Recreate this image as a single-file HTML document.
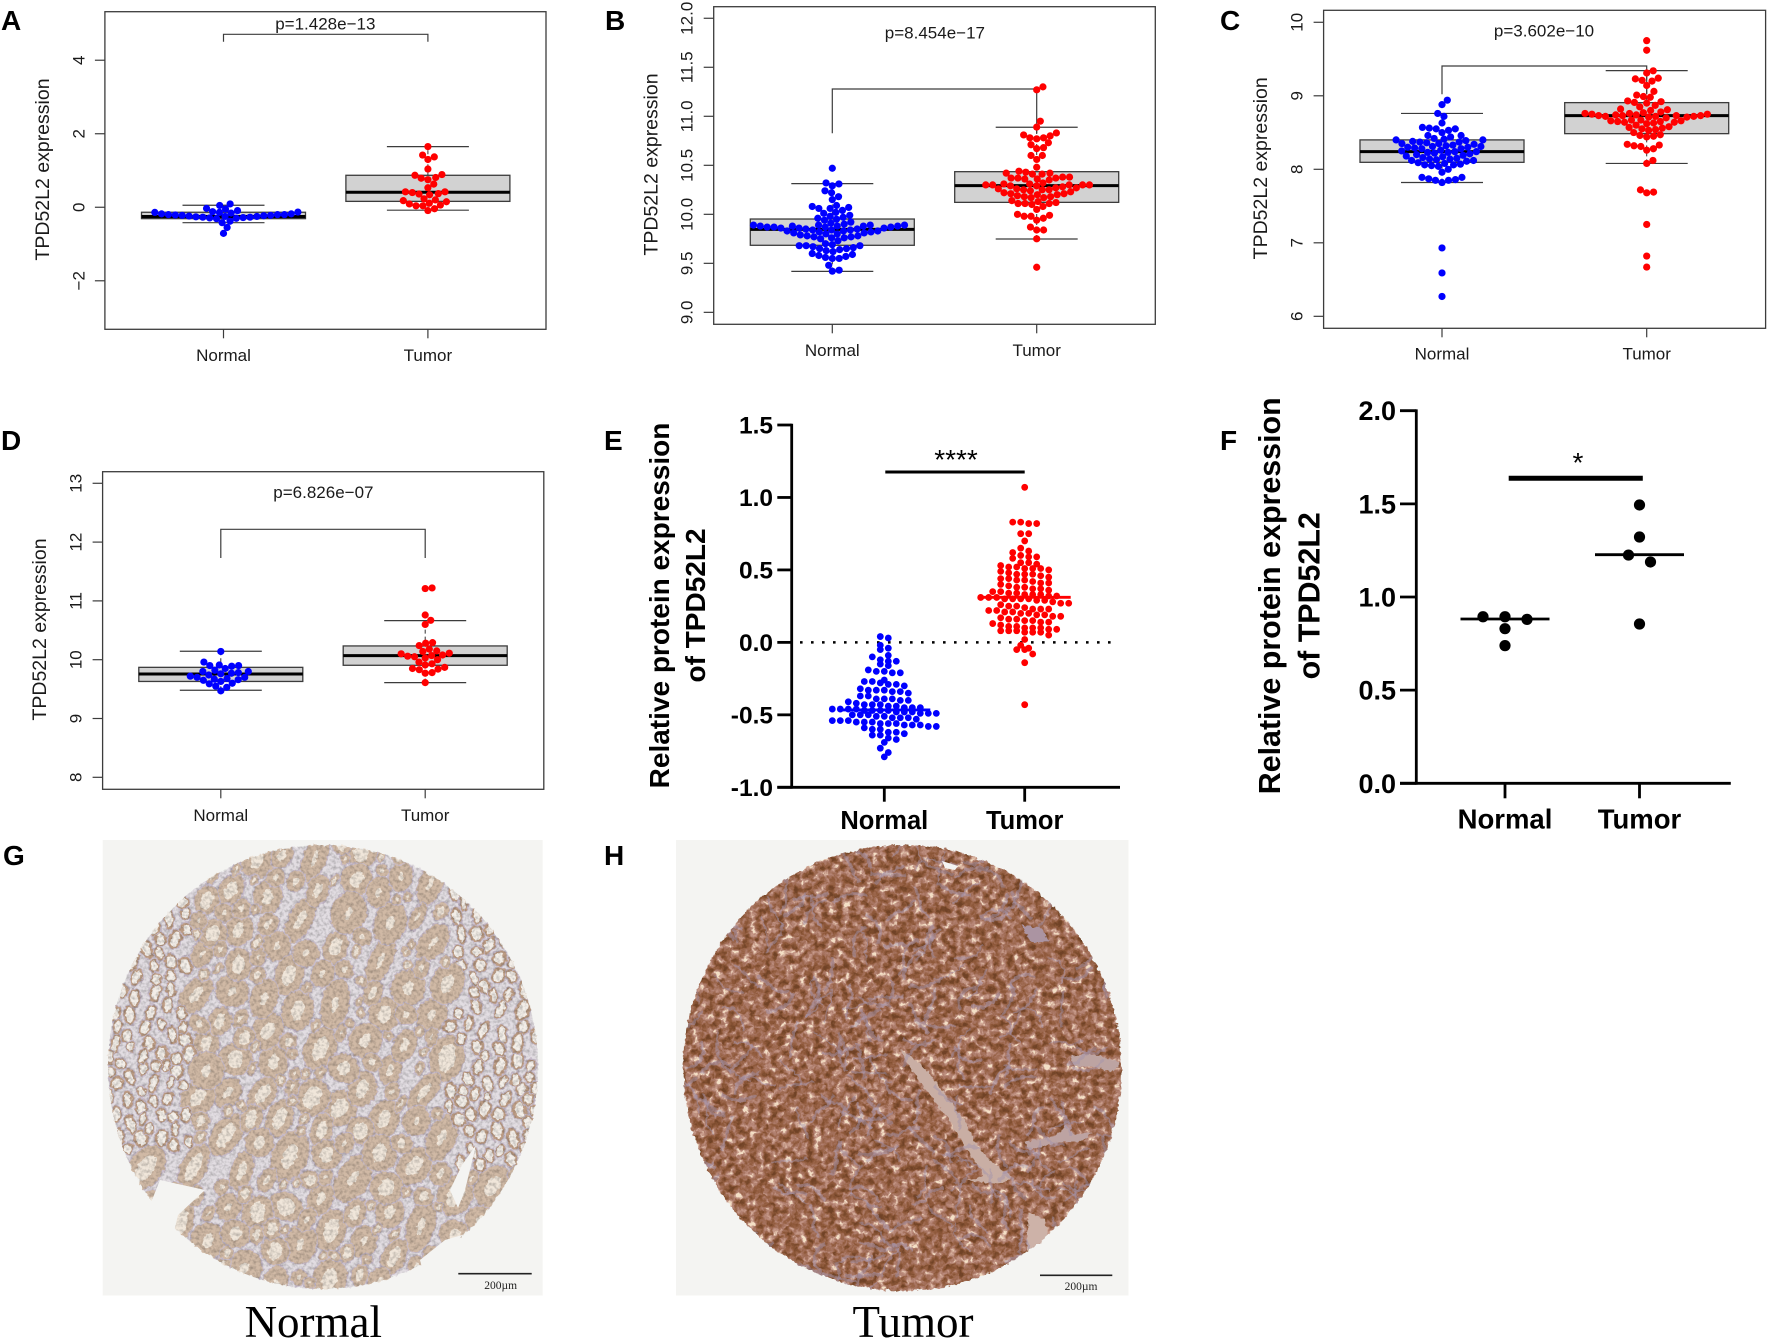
<!DOCTYPE html>
<html lang="en">
<head>
<meta charset="utf-8">
<title>TPD52L2 expression figure</title>
<style>
html,body{margin:0;padding:0;background:#fff;width:1768px;height:1342px;overflow:hidden}
svg{display:block;font-family:"Liberation Sans",Arial,sans-serif}
</style>
</head>
<body>
<svg id="figure" xmlns="http://www.w3.org/2000/svg" width="1768" height="1342" viewBox="0 0 1768 1342">
<defs>
<clipPath id="clipG"><ellipse cx="323" cy="1067" rx="215" ry="222"/></clipPath>
<clipPath id="clipH"><ellipse cx="902.5" cy="1068" rx="219" ry="223"/></clipPath>
<filter id="rough" filterUnits="userSpaceOnUse" x="90" y="830" width="1060" height="480" color-interpolation-filters="sRGB">
<feTurbulence type="fractalNoise" baseFrequency="0.22" numOctaves="2" seed="4" result="n"/>
<feDisplacementMap in="SourceGraphic" in2="n" scale="5" xChannelSelector="R" yChannelSelector="G"/>
</filter>
<filter id="tumorTex" filterUnits="userSpaceOnUse" x="676" y="840" width="453" height="456" color-interpolation-filters="sRGB">
<feTurbulence type="fractalNoise" baseFrequency="0.14" numOctaves="3" seed="11"/>
<feColorMatrix type="matrix" values="1.8 0 0 0 -.4  1.8 0 0 0 -.4  1.8 0 0 0 -.4  0 0 0 0 1"/>
<feComponentTransfer>
<feFuncR type="table" tableValues=".44 .49 .55 .60 .65 .71 .80 .96"/>
<feFuncG type="table" tableValues=".26 .30 .34 .39 .45 .52 .63 .88"/>
<feFuncB type="table" tableValues=".15 .18 .22 .28 .37 .46 .56 .78"/>
</feComponentTransfer>
</filter>
<filter id="normalTex" filterUnits="userSpaceOnUse" x="102" y="840" width="441" height="456" color-interpolation-filters="sRGB">
<feTurbulence type="fractalNoise" baseFrequency="0.3" numOctaves="2" seed="7"/>
<feColorMatrix type="matrix" values=".5 0 0 0 .70  .5 0 0 0 .70  .5 0 0 0 .70  0 0 0 0 1"/>
</filter>
</defs>
<rect x="0" y="0" width="1768" height="1342" fill="#ffffff"/>
<g id="charts"></g>
<g id="tissue-g">
<rect x="102.7" y="840" width="440" height="455.5" fill="#f4f4f2"/>
<g filter="url(#rough)">
<g id="normal-core" clip-path="url(#clipG)">
<ellipse cx="323" cy="1067" rx="215" ry="222" fill="#e2dde2"/>
</g>
</g>
<g clip-path="url(#clipG)" style="mix-blend-mode:multiply">
<rect x="102" y="840" width="441" height="456" filter="url(#normalTex)"/>
</g>
<path d="M160 1180 L205 1190 L178 1215 L172 1240 L150 1205Z" fill="#f4f4f2"/>
<path d="M476 1145 L465 1190 L458 1208 L450 1190 L462 1165Z" fill="#f4f4f2"/>
<path d="M420 1260 L445 1240 L462 1235 L440 1268 L425 1280Z" fill="#f4f4f2"/>
<line x1="458.3" y1="1273.7" x2="531.7" y2="1273.7" stroke="#222" stroke-width="1.6"/>
<text x="500.7" y="1289" text-anchor="middle" font-family="Liberation Serif, serif" font-size="11.5" fill="#222">200µm</text>
</g>
<g id="tissue-h">
<rect x="676" y="840" width="452.5" height="455.5" fill="#f4f4f2"/>
<g filter="url(#rough)">
<g id="tumor-core" clip-path="url(#clipH)">
<rect x="676" y="840" width="453" height="456" filter="url(#tumorTex)"/>
<path d="M900 1050 C918 1060 930 1072 942 1090 C952 1104 964 1118 972 1135 C980 1152 995 1166 1012 1176 L1002 1184 L965 1180 L985 1176 C972 1158 960 1140 950 1122 C936 1102 918 1082 900 1050Z" fill="#c9aea4"/>
<path d="M1028 1212 L1045 1220 L1050 1245 L1034 1262 L1027 1250Z" fill="#cdb2a8"/>
<path d="M1071 1056 L1090 1054 L1120 1062 L1115 1072 L1090 1066 L1074 1066Z" fill="#bda4a2"/>
<path d="M1066 1125 L1075 1135 L1092 1132 L1080 1142 L1060 1142 L1030 1150 L1025 1142 L1055 1136Z" fill="#bda3a2"/>
<path d="M1022 925 L1040 928 L1050 942 L1030 942Z" fill="#ab94a2"/>
</g>
</g>
<path d="M942 861 L958 866 L955 870 L945 868Z" fill="#f4f4f2"/>
<line x1="1040" y1="1275.3" x2="1112.3" y2="1275.3" stroke="#222" stroke-width="1.6"/>
<text x="1081" y="1290" text-anchor="middle" font-family="Liberation Serif, serif" font-size="11.5" fill="#222">200µm</text>
</g>
<text x="313.3" y="1337" text-anchor="middle" font-family="Liberation Serif, serif" font-size="45" fill="#000">Normal</text>
<text x="913" y="1337" text-anchor="middle" font-family="Liberation Serif, serif" font-size="45" fill="#000">Tumor</text>
<text x="1" y="30" font-size="28" font-weight="700" fill="#000">A</text>
<text x="605" y="30" font-size="28" font-weight="700" fill="#000">B</text>
<text x="1220" y="30" font-size="28" font-weight="700" fill="#000">C</text>
<text x="1" y="450" font-size="28" font-weight="700" fill="#000">D</text>
<text x="604" y="450" font-size="28" font-weight="700" fill="#000">E</text>
<text x="1220" y="450" font-size="28" font-weight="700" fill="#000">F</text>
<text x="3" y="865" font-size="28" font-weight="700" fill="#000">G</text>
<text x="604" y="865" font-size="28" font-weight="700" fill="#000">H</text>
</svg>
<script>
// ---------- chart data ----------
const categories = ['Normal', 'Tumor'];

const panelANormal = [0.09,0.05,-0.03,-0.05,-0.09,-0.12,-0.13,-0.14,-0.14,-0.16,-0.18,-0.18,-0.2,-0.2,-0.2,-0.21,-0.22,-0.22,-0.23,-0.24,-0.25,-0.25,-0.26,-0.27,-0.27,-0.28,-0.29,-0.3,-0.31,-0.38,-0.42,-0.55,-0.71];
const panelATumor = [1.65,1.42,1.37,1.3,1.04,0.89,0.87,0.81,0.79,0.75,0.63,0.53,0.42,0.42,0.4,0.37,0.36,0.34,0.23,0.2,0.18,0.15,0.11,0.09,0.06,0.04,0.04,-0.04,-0.09];
const panelABoxNormal = [-0.42,-0.31,-0.25,-0.136,0.055];
const panelABoxTumor = [-0.08,0.16,0.41,0.87,1.65];
const panelATicks = [-2,0,2,4];
const panelATickLabels = ['\u22122','0','2','4'];
const panelADomain = [-3.32,5.32];

const panelBNormal = [10.47,10.32,10.31,10.29,10.24,10.22,10.18,10.15,10.09,10.08,10.07,10.06,10.06,10.04,10.02,10.01,9.99,9.98,9.97,9.96,9.95,9.94,9.92,9.91,9.9,9.89,9.89,9.89,9.89,9.88,9.88,9.88,9.88,9.88,9.87,9.87,9.87,9.87,9.86,9.86,9.86,9.85,9.85,9.84,9.84,9.84,9.83,9.83,9.83,9.82,9.82,9.81,9.81,9.8,9.8,9.79,9.78,9.78,9.77,9.77,9.76,9.76,9.75,9.73,9.7,9.69,9.68,9.68,9.68,9.67,9.66,9.65,9.65,9.64,9.63,9.62,9.6,9.59,9.58,9.57,9.56,9.55,9.55,9.48,9.43,9.42];
const panelBTumor = [11.3,11.27,10.95,10.89,10.83,10.81,10.8,10.78,10.78,10.77,10.73,10.71,10.68,10.67,10.6,10.6,10.56,10.48,10.44,10.43,10.42,10.42,10.41,10.41,10.38,10.38,10.37,10.37,10.37,10.36,10.36,10.35,10.32,10.31,10.31,10.3,10.3,10.3,10.3,10.3,10.29,10.29,10.28,10.27,10.27,10.26,10.26,10.25,10.25,10.25,10.24,10.23,10.22,10.21,10.21,10.2,10.2,10.19,10.18,10.18,10.17,10.17,10.14,10.13,10.12,10.11,10.11,10.11,10.1,10.08,10.05,10,9.99,9.98,9.98,9.96,9.94,9.87,9.84,9.84,9.75,9.46];
const panelBBoxNormal = [9.418,9.684,9.847,9.952,10.313];
const panelBBoxTumor = [9.748,10.122,10.293,10.435,10.888];
const panelBTicks = [9,9.5,10,10.5,11,11.5,12];
const panelBTickLabels = ['9.0','9.5','10.0','10.5','11.0','11.5','12.0'];
const panelBDomain = [8.878,12.118];

const panelCNormal = [8.94,8.88,8.76,8.72,8.63,8.57,8.56,8.55,8.55,8.53,8.5,8.46,8.46,8.44,8.42,8.41,8.4,8.4,8.39,8.38,8.37,8.37,8.36,8.35,8.35,8.34,8.33,8.32,8.31,8.31,8.3,8.3,8.29,8.28,8.28,8.26,8.25,8.24,8.24,8.23,8.23,8.22,8.21,8.2,8.19,8.18,8.17,8.16,8.15,8.14,8.14,8.13,8.12,8.12,8.11,8.09,8.08,8.07,8.06,8.06,8.05,8.04,8,7.96,7.89,7.89,7.87,7.86,7.85,7.85,7.82,6.93,6.59,6.27];
const panelCTumor = [9.75,9.62,9.34,9.31,9.24,9.23,9.21,9.2,9.14,9.06,9.01,8.99,8.98,8.93,8.92,8.91,8.9,8.87,8.85,8.82,8.81,8.8,8.78,8.77,8.76,8.76,8.75,8.75,8.74,8.74,8.73,8.73,8.73,8.73,8.72,8.72,8.72,8.71,8.71,8.7,8.67,8.67,8.66,8.66,8.65,8.65,8.64,8.64,8.63,8.62,8.6,8.58,8.57,8.56,8.55,8.54,8.53,8.5,8.47,8.46,8.45,8.44,8.34,8.33,8.32,8.31,8.28,8.26,8.12,8.08,7.72,7.69,7.68,7.25,6.82,6.67];
const panelCBoxNormal = [7.82,8.095,8.24,8.4,8.76];
const panelCBoxTumor = [8.08,8.485,8.73,8.907,9.342];
const panelCTicks = [6,7,8,9,10];
const panelCTickLabels = ['6','7','8','9','10'];
const panelCDomain = [5.837,10.163];

const panelDNormal = [10.14,9.96,9.91,9.9,9.9,9.89,9.85,9.82,9.8,9.8,9.78,9.77,9.76,9.74,9.72,9.7,9.7,9.68,9.67,9.66,9.65,9.63,9.6,9.59,9.55,9.53,9.47];
const panelDTumor = [11.22,11.21,10.76,10.67,10.6,10.29,10.28,10.24,10.18,10.15,10.14,10.11,10.1,10.08,10.07,10.06,10.05,10.03,10,9.96,9.93,9.91,9.87,9.85,9.84,9.83,9.78,9.77,9.61];
const panelDBoxNormal = [9.48,9.63,9.757,9.87,10.143];
const panelDBoxTumor = [9.61,9.905,10.07,10.234,10.664];
const panelDTicks = [8,9,10,11,12,13];
const panelDTickLabels = ['8','9','10','11','12','13'];
const panelDDomain = [7.796,13.197];

const panelENormal = [0.04,0.03,-0.02,-0.04,-0.05,-0.09,-0.1,-0.12,-0.13,-0.13,-0.15,-0.16,-0.19,-0.2,-0.2,-0.21,-0.21,-0.26,-0.27,-0.27,-0.28,-0.29,-0.29,-0.3,-0.32,-0.33,-0.33,-0.33,-0.34,-0.34,-0.35,-0.37,-0.37,-0.39,-0.39,-0.39,-0.4,-0.4,-0.41,-0.42,-0.43,-0.43,-0.43,-0.44,-0.44,-0.45,-0.45,-0.45,-0.46,-0.46,-0.46,-0.46,-0.47,-0.47,-0.47,-0.47,-0.48,-0.48,-0.48,-0.49,-0.49,-0.49,-0.5,-0.5,-0.5,-0.51,-0.51,-0.52,-0.52,-0.52,-0.53,-0.54,-0.54,-0.54,-0.55,-0.55,-0.55,-0.56,-0.56,-0.56,-0.57,-0.57,-0.57,-0.58,-0.58,-0.59,-0.6,-0.6,-0.62,-0.62,-0.63,-0.64,-0.64,-0.66,-0.67,-0.69,-0.73,-0.76,-0.79];
const panelETumor = [1.07,0.83,0.83,0.82,0.82,0.75,0.75,0.7,0.65,0.63,0.62,0.6,0.59,0.59,0.58,0.55,0.55,0.54,0.53,0.52,0.52,0.51,0.51,0.51,0.5,0.49,0.48,0.47,0.47,0.47,0.46,0.45,0.44,0.44,0.43,0.43,0.42,0.41,0.41,0.4,0.39,0.38,0.38,0.37,0.37,0.36,0.35,0.35,0.34,0.34,0.33,0.33,0.33,0.32,0.32,0.31,0.31,0.31,0.3,0.3,0.3,0.3,0.29,0.29,0.28,0.27,0.27,0.26,0.25,0.25,0.24,0.23,0.23,0.23,0.22,0.22,0.21,0.21,0.2,0.2,0.19,0.19,0.18,0.18,0.17,0.16,0.16,0.15,0.15,0.14,0.14,0.13,0.12,0.11,0.11,0.1,0.1,0.1,0.09,0.09,0.08,0.08,0.08,0.07,0.07,0.07,0.05,0.02,-0.02,-0.04,-0.05,-0.05,-0.08,-0.14,-0.43];
const panelEMeans = [-0.466,0.311];
const panelETicks = [-1,-0.5,0,0.5,1,1.5];
const panelETickLabels = ['-1.0','-0.5','0.0','0.5','1.0','1.5'];
const panelEDomain = [-1,1.5];

const panelFNormal = [0.894,0.894,0.88,0.83,0.739];
const panelFNormalSlots = [-2,0,2,0,0];
const panelFTumor = [1.494,1.322,1.225,1.188,0.855];
const panelFTumorSlots = [0,0,-1,1,0];
const panelFMeans = [0.882,1.227];
const panelFTicks = [0,0.5,1,1.5,2];
const panelFTickLabels = ['0.0','0.5','1.0','1.5','2.0'];
const panelFDomain = [0,2];

// ---------- layout ----------
const NS = 'http://www.w3.org/2000/svg';
const chartsRoot = document.getElementById('charts');

function mk(tag, parent, attrs) {
  const el = document.createElementNS(NS, tag);
  for (const k in attrs) el.setAttribute(k, attrs[k]);
  parent.appendChild(el);
  return el;
}
function linear(d0, d1, r0, r1) {
  return function (v) { return r0 + (v - d0) * (r1 - r0) / (d1 - d0); };
}
// Swarm placement: ascending values, each point takes the x offset nearest the centre without overlap.
function swarm(values, yFn, gap) {
  const sorted = values.slice().sort(function (a, b) { return a - b; });
  const placed = [];
  sorted.forEach(function (v) {
    const y = yFn(v);
    const cands = [0];
    placed.forEach(function (p) {
      const dy = Math.abs(p.y - y);
      if (dy < gap) {
        const off = Math.sqrt(gap * gap - dy * dy);
        cands.push(p.dx + off);
        cands.push(p.dx - off);
      }
    });
    const ok = cands.filter(function (c) {
      return placed.every(function (p) {
        const ddx = p.dx - c, ddy = p.y - y;
        return ddx * ddx + ddy * ddy >= gap * gap - 1e-6;
      });
    });
    ok.sort(function (a, b) { return Math.abs(a) - Math.abs(b); });
    placed.push({ y: y, dx: ok[0], v: v });
  });
  return placed;
}
// Binned placement: values sharing a y bin are spread symmetrically in rows.
function binned(values, yFn, binWidth, step) {
  const bins = {};
  values.forEach(function (v) {
    const key = Math.floor(v / binWidth);
    (bins[key] = bins[key] || []).push(v);
  });
  const out = [];
  Object.keys(bins).forEach(function (key) {
    const list = bins[key];
    list.forEach(function (v, i) {
      const dx = (i - (list.length - 1) / 2) * step;
      out.push({ y: yFn(v), dx: dx, v: v });
    });
  });
  return out;
}

function drawBoxPanel(c) {
  const g = mk('g', chartsRoot, {});
  
  
  const y = linear(c.domain[0], c.domain[1], c.bottom, c.top);
  const frame = mk('rect', g, { x: c.left, y: c.top, width: c.right - c.left, height: c.bottom - c.top, fill: 'none', stroke: '#3c3c3c', 'stroke-width': 1.3 });
  
  
  c.ticks.forEach(function (t, i) {
    const tick = mk('line', g, { x1: c.left - 10, x2: c.left, y1: y(t), y2: y(t), stroke: '#3c3c3c', 'stroke-width': 1.2 });
    
    
    const lab = mk('text', g, { transform: 'translate(' + c.tickX + ',' + y(t) + ') rotate(-90)', 'text-anchor': 'middle', dy: '.35em', 'font-size': 17, fill: '#1a1a1a' });
    lab.textContent = c.tickLabels[i];
    
    
  });
  const title = mk('text', g, { transform: 'translate(' + c.titleX + ',' + ((c.top + c.bottom) / 2 - 1) + ') rotate(-90)', 'text-anchor': 'middle', dy: '.35em', 'font-size': 19.5, fill: '#1a1a1a' });
  title.textContent = 'TPD52L2 expression';
  
  
  const xs = [c.xN, c.xT];
  const boxes = [c.boxN, c.boxT];
  const points = [c.normal, c.tumor];
  const colors = ['#0000ff', '#ff0000'];
  xs.forEach(function (x, i) {
    const tick = mk('line', g, { x1: x, x2: x, y1: c.bottom, y2: c.bottom + 9, stroke: '#3c3c3c', 'stroke-width': 1.2 });
    
    
    const lab = mk('text', g, { x: x, y: c.xLabelY, 'text-anchor': 'middle', dy: '.35em', 'font-size': 17, fill: '#1a1a1a' });
    lab.textContent = categories[i];
    
    
    const b = boxes[i];
    const whisker = mk('line', g, { x1: x, x2: x, y1: y(b[0]), y2: y(b[4]), stroke: '#333', 'stroke-width': 1, 'stroke-dasharray': '4 3' });
    
    
    [b[0], b[4]].forEach(function (w) {
      const cap = mk('line', g, { x1: x - 41, x2: x + 41, y1: y(w), y2: y(w), stroke: '#3c3c3c', 'stroke-width': 1.2 });
      
      
    });
    const rect = mk('rect', g, { x: x - 82, width: 164, y: y(b[3]), height: y(b[1]) - y(b[3]), fill: '#d2d2d2', stroke: '#3c3c3c', 'stroke-width': 1.3 });
    
    
    const med = mk('line', g, { x1: x - 82, x2: x + 82, y1: y(b[2]), y2: y(b[2]), stroke: '#000', 'stroke-width': 3 });
    
    
  });
  const bracket = mk('path', g, { d: 'M' + c.xN + ' ' + c.bracketEnd[0] + 'V' + c.bracketTop + 'H' + c.xT + 'V' + c.bracketEnd[1], fill: 'none', stroke: '#3c3c3c', 'stroke-width': 1.2 });
  
  
  xs.forEach(function (x, i) {
    swarm(points[i], y, 6.9).forEach(function (p) {
      const dot = mk('circle', g, { cx: x + p.dx, cy: p.y, r: 3.6, fill: colors[i] });
      
      
    });
  });
  const pt = mk('text', g, { x: c.pX, y: c.pY, 'text-anchor': 'middle', dy: '.35em', 'font-size': 17, fill: '#1a1a1a' });
  pt.textContent = c.pLabel;
  
  
}

drawBoxPanel({ id: 'a', left: 104.9, right: 546, top: 11.7, bottom: 329.3, domain: panelADomain, ticks: panelATicks, tickLabels: panelATickLabels, tickX: 78.5, titleX: 42, xN: 223.5, xT: 427.9, xLabelY: 355.2, normal: panelANormal, tumor: panelATumor, boxN: panelABoxNormal, boxT: panelABoxTumor, bracketTop: 34.3, bracketEnd: [41.7, 41.7], pX: 325.3, pY: 23.5, pLabel: 'p=1.428e\u221213' });
drawBoxPanel({ id: 'b', left: 713.7, right: 1155.3, top: 6.7, bottom: 324.3, domain: panelBDomain, ticks: panelBTicks, tickLabels: panelBTickLabels, tickX: 686.5, titleX: 650.5, xN: 832.3, xT: 1036.7, xLabelY: 350.2, normal: panelBNormal, tumor: panelBTumor, boxN: panelBBoxNormal, boxT: panelBBoxTumor, bracketTop: 89, bracketEnd: [133.3, 133.3], pX: 934.9, pY: 32.3, pLabel: 'p=8.454e\u221217' });
drawBoxPanel({ id: 'c', left: 1323.6, right: 1765.6, top: 10.3, bottom: 328.3, domain: panelCDomain, ticks: panelCTicks, tickLabels: panelCTickLabels, tickX: 1296.4, titleX: 1260, xN: 1442, xT: 1646.7, xLabelY: 353.6, normal: panelCNormal, tumor: panelCTumor, boxN: panelCBoxNormal, boxT: panelCBoxTumor, bracketTop: 66, bracketEnd: [94.3, 94.3], pX: 1544, pY: 30.7, pLabel: 'p=3.602e\u221210' });
drawBoxPanel({ id: 'd', left: 102.6, right: 543.8, top: 471.7, bottom: 789.3, domain: panelDDomain, ticks: panelDTicks, tickLabels: panelDTickLabels, tickX: 75.4, titleX: 39, xN: 220.8, xT: 425.2, xLabelY: 814.8, normal: panelDNormal, tumor: panelDTumor, boxN: panelDBoxNormal, boxT: panelDBoxTumor, bracketTop: 529.3, bracketEnd: [558, 558], pX: 323.4, pY: 492, pLabel: 'p=6.826e\u221207' });

function drawDotPanel(c) {
  const g = mk('g', chartsRoot, {});
  
  
  const y = linear(c.domain[0], c.domain[1], c.bottom, c.top);
  const yAxis = mk('line', g, { x1: c.axisX, x2: c.axisX, y1: c.top - 1.3, y2: c.bottom + 1.3, stroke: '#000', 'stroke-width': 2.8 });
  
  
  const xAxis = mk('line', g, { x1: c.tickLeft, x2: c.axisEnd, y1: c.bottom, y2: c.bottom, stroke: '#000', 'stroke-width': 2.8 });
  
  
  c.ticks.forEach(function (t, i) {
    const tick = mk('line', g, { x1: c.tickLeft, x2: c.axisX, y1: y(t), y2: y(t), stroke: '#000', 'stroke-width': 2.8 });
    
    
    const lab = mk('text', g, { x: c.tickLabelX, y: y(t), 'text-anchor': 'end', dy: '.35em', 'font-size': c.tickFont, 'font-weight': 700, fill: '#000' });
    lab.textContent = c.tickLabels[i];
    
    
  });
  c.titleLines.forEach(function (line) {
    const tl = mk('text', g, { transform: 'translate(' + line.x + ',' + c.titleY + ') rotate(-90)', 'text-anchor': 'middle', dy: '.35em', 'font-size': c.titleFont, 'font-weight': 700, fill: '#000' });
    tl.textContent = line.text;
    
    
  });
  const xs = [c.xN, c.xT];
  xs.forEach(function (x, i) {
    const tick = mk('line', g, { x1: x, x2: x, y1: c.bottom, y2: c.xTickEnd, stroke: '#000', 'stroke-width': 2.8 });
    
    
    const lab = mk('text', g, { x: x, y: c.xLabelY, 'text-anchor': 'middle', dy: '.35em', 'font-size': c.xFont, 'font-weight': 700, fill: '#000' });
    lab.textContent = categories[i];
    
    
  });
  const sig = mk('line', g, { x1: c.sig[0], x2: c.sig[1], y1: c.sigY, y2: c.sigY, stroke: '#000', 'stroke-width': c.sigW });
  
  
  const stars = mk('text', g, { x: c.starX, y: c.starY, 'text-anchor': 'middle', 'font-size': 28, fill: '#000' });
  stars.textContent = c.stars;
  
  
  if (c.zeroLine) {
    const dotted = mk('line', g, { x1: c.zeroLine[0], x2: c.zeroLine[1], y1: y(0), y2: y(0), stroke: '#000', 'stroke-width': 2.6, 'stroke-dasharray': '2.6 8.4' });
    
    
  }
  xs.forEach(function (x, i) {
    const vals = c.series[i];
    if (c.slots) {
      vals.forEach(function (v, k) {
        const dot = mk('circle', g, { cx: x + c.slots[i][k] * c.slotStep, cy: y(v), r: c.r, fill: c.colors[i] });
        
        
      });
    } else {
      binned(vals, y, c.binWidth, c.step).forEach(function (p) {
        const dot = mk('circle', g, { cx: x + p.dx, cy: p.y, r: c.r, fill: c.colors[i] });
        
        
      });
    }
    const mean = mk('line', g, { x1: x - c.meanHalf, x2: x + c.meanHalf, y1: y(c.means[i]), y2: y(c.means[i]), stroke: c.colors[i], 'stroke-width': 2.8 });
    
    
  });
}

drawDotPanel({ id: 'e', top: 425, bottom: 787.3, domain: panelEDomain, axisX: 791.7, axisEnd: 1120, tickLeft: 777.3, ticks: panelETicks, tickLabels: panelETickLabels, tickLabelX: 773, tickFont: 24.5, titleFont: 28, titleY: 605.5, titleLines: [{ x: 659.3, text: 'Relative protein expression' }, { x: 695, text: 'of TPD52L2' }], xN: 884.3, xT: 1024.7, xTickEnd: 801.7, xLabelY: 820, xFont: 25.5, sig: [885.3, 1024.7], sigY: 472, sigW: 3, starX: 956, starY: 469, stars: '****', zeroLine: [800, 1112], series: [panelENormal, panelETumor], colors: ['#0000ff', '#ff0000'], means: panelEMeans, meanHalf: 46, r: 3.4, binWidth: 0.045, step: 8 });
drawDotPanel({ id: 'f', top: 410.7, bottom: 783.3, domain: panelFDomain, axisX: 1416.3, axisEnd: 1730.8, tickLeft: 1400, ticks: panelFTicks, tickLabels: panelFTickLabels, tickLabelX: 1396, tickFont: 27, titleFont: 30.4, titleY: 595.8, titleLines: [{ x: 1269.6, text: 'Relative protein expression' }, { x: 1308.7, text: 'of TPD52L2' }], xN: 1505, xT: 1639.5, xTickEnd: 798.3, xLabelY: 819, xFont: 27.5, sig: [1508.7, 1642.8], sigY: 478.3, sigW: 5, starX: 1578, starY: 472, stars: '*', series: [panelFNormal, panelFTumor], slots: [panelFNormalSlots, panelFTumorSlots], slotStep: 11, colors: ['#000', '#000'], means: panelFMeans, meanHalf: 44.5, r: 5.6 });

// ---------- histology illustrations (decorative, not chart data) ----------
function prng(seed) {
  return function () {
    seed |= 0; seed = seed + 0x6D2B79F5 | 0;
    let t = Math.imul(seed ^ seed >>> 15, 1 | seed);
    t = t + Math.imul(t ^ t >>> 7, 61 | t) ^ t;
    return ((t ^ t >>> 14) >>> 0) / 4294967296;
  };
}
(function normalTissue() {
  const core = document.getElementById('normal-core');
  const rnd = prng(20);
  const placed = [];
  [[5000, 1], [5000, 0.62], [6000, 0.38]].forEach(function (phase) {
    const tries = phase[0], scale = phase[1];
    for (let n = 0; n < tries; n++) {
      const x = 108 + rnd() * 430, y = 845 + rnd() * 444;
      const ex = (x - 323) / 215, ey = (y - 1067) / 222;
      if (ex * ex + ey * ey > 1.02) continue;
      const side = Math.abs(ex + 0.02) > 0.6 && ey < 0.45;
      if (side && scale < 0.5) continue;
      const rx = side ? (5 + rnd() * 3.5) * (scale < 1 ? 0.8 : 1) : (11 + rnd() * 8) * scale;
      const ry = side ? (7 + rnd() * 5) * (scale < 1 ? 0.8 : 1) : (14 + rnd() * 14) * scale;
      const R = Math.max(rx, ry) * 0.74;
      if (placed.some(function (p) { return Math.hypot(p.x - x, p.y - y) < p.R + R; })) continue;
      placed.push({ x: x, y: y, R: R });
      const rot = side ? rnd() * 50 - 25 : 10 + rnd() * 30;
      const tub = mk('ellipse', core, { cx: x, cy: y, rx: rx, ry: ry, transform: 'rotate(' + rot + ' ' + x + ' ' + y + ')', fill: side ? '#bd9d85' : '#d0b9a5', stroke: '#c8bccb', 'stroke-width': 1.1 });
      
      
      const lr = side ? 0.6 : 0.16 + rnd() * 0.34;
      const lum = mk('ellipse', core, { cx: x, cy: y, rx: rx * lr, ry: ry * (lr + 0.12), transform: 'rotate(' + rot + ' ' + x + ' ' + y + ')', fill: side ? '#f3eee8' : '#f0e6da' });
      
      
    }
  });
})();
(function tumorTissue() {
  const core = document.getElementById('tumor-core');
  const rnd = prng(77);
  for (let n = 0; n < 260; n++) {
    const x = 690 + rnd() * 425, y = 850 + rnd() * 435;
    let d = 'M' + x.toFixed(1) + ' ' + y.toFixed(1);
    let a = rnd() * 6.28, px = x, py = y;
    for (let k = 0; k < 3; k++) {
      a += (rnd() - 0.5) * 1.6;
      px += Math.cos(a) * 12;
      py += Math.sin(a) * 12;
      d += 'L' + px.toFixed(1) + ' ' + py.toFixed(1);
    }
    const streak = mk('path', core, { d: d, fill: 'none', stroke: '#a393ac', 'stroke-width': 1.6 + rnd() * 2, opacity: 0.5 });
    
    
  }
})();
</script>
</body>
</html>
